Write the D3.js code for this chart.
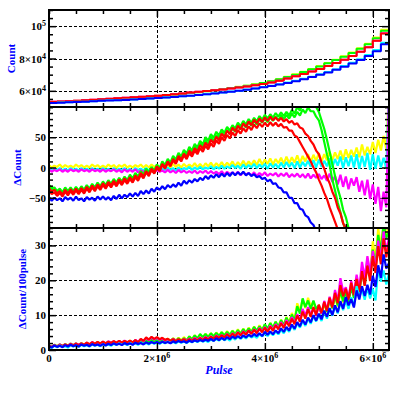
<!DOCTYPE html>
<html>
<head>
<meta charset="utf-8">
<script src="https://cdn.jsdelivr.net/npm/d3@7"></script>
<style>
  body { margin: 0; background: #fff; }
  svg { display: block; }
  .lbl { font-family: "Liberation Serif", "DejaVu Serif", serif; font-weight: bold; }
</style>
</head>
<body>
<div id="chart"></div>
<script>
// ---- data (pulse in units of 1e5, counts in units of 1e4) ----
const PULSE_BINS = [0,1.5,3,4.5,6,7.5,9,10.5,12,13.5,15,16.5,18,19.5,21,22.5,24,25.5,27,28.5,30,31.5,33,34.5,36,37.5,39,40.5,42,43.5,45,46.5,48,49.5,51,52.5,54,55.5,57,58.5,60,61.5,63];

const COUNT_YELLOW  = [5.30,5.33,5.34,5.38,5.40,5.44,5.46,5.50,5.52,5.56, 5.58,5.62,5.64,5.69,5.72,5.78,5.82,5.88,5.93,5.99, 6.05,6.11,6.18,6.25,6.32,6.40,6.49,6.60,6.72,6.87, 7.02,7.18,7.35,7.53,7.72,7.93,8.14,8.37,8.64,8.92, 9.30,9.78];
const COUNT_GREEN   = [5.30,5.32,5.34,5.37,5.40,5.43,5.46,5.49,5.52,5.55, 5.58,5.61,5.64,5.68,5.72,5.77,5.82,5.87,5.92,5.98, 6.04,6.10,6.17,6.24,6.31,6.39,6.48,6.59,6.71,6.85, 7.00,7.16,7.33,7.51,7.70,7.90,8.11,8.34,8.60,8.88, 9.25,9.72];
const COUNT_MAGENTA = [5.32,5.34,5.36,5.39,5.42,5.45,5.48,5.51,5.54,5.57, 5.60,5.63,5.66,5.70,5.74,5.79,5.84,5.89,5.94,5.99, 6.04,6.09,6.15,6.21,6.27,6.34,6.42,6.52,6.63,6.76, 6.90,7.04,7.19,7.35,7.53,7.72,7.93,8.15,8.41,8.70, 9.10,9.56];
const COUNT_RED     = [5.32,5.34,5.36,5.39,5.42,5.45,5.48,5.51,5.54,5.57, 5.60,5.63,5.66,5.70,5.74,5.79,5.84,5.89,5.94,5.99, 6.04,6.09,6.15,6.21,6.27,6.34,6.42,6.52,6.63,6.76, 6.90,7.04,7.19,7.35,7.53,7.72,7.93,8.15,8.41,8.70, 9.10,9.55];
const COUNT_CYAN    = [5.25,5.28,5.29,5.32,5.33,5.36,5.38,5.41,5.42,5.45, 5.47,5.49,5.53,5.55,5.59,5.62,5.67,5.70,5.75,5.79, 5.85,5.89,5.96,6.01,6.08,6.15,6.23,6.31,6.40,6.51, 6.62,6.74,6.87,7.02,7.17,7.34,7.53,7.73,7.96,8.22, 8.52,8.98];
const COUNT_BLUE    = [5.25,5.27,5.29,5.31,5.33,5.35,5.38,5.40,5.42,5.44, 5.46,5.49,5.52,5.55,5.58,5.62,5.66,5.70,5.74,5.79, 5.84,5.89,5.95,6.01,6.07,6.14,6.22,6.30,6.39,6.49, 6.60,6.72,6.85,6.99,7.14,7.31,7.49,7.69,7.91,8.16, 8.45,8.88];

const PULSE = [0,0.5,1,1.5,2,2.5,3,3.5,4,4.5,5,5.5,6,6.5,7,7.5,8,8.5,9,9.5,
  10,10.5,11,11.5,12,12.5,13,13.5,14,14.5,15,15.5,16,16.5,17,17.5,18,18.5,19,19.5,
  20,20.5,21,21.5,22,22.5,23,23.5,24,24.5,25,25.5,26,26.5,27,27.5,28,28.5,29,29.5,
  30,30.5,31,31.5,32,32.5,33,33.5,34,34.5,35,35.5,36,36.5,37,37.5,38,38.5,39,39.5,
  40,40.5,41,41.5,42,42.5,43,43.5,44,44.5,45,45.5,46,46.5,47,47.5,48,48.5,49,49.5,
  50,50.5,51,51.5,52,52.5,53,53.5,54,54.5,55,55.5,56,56.5,57,57.5,58,58.5,59,59.5,
  60,60.5,61,61.5,62,62.5,63];

// ΔCount
const DC_YELLOW = [4,0,3,1,5,0,4,1,3,0,5,1,4,0,3,0,5,1,4,0,
  3,0,5,1,4,-1,4,1,5,0,3,0,4,1,5,0,4,0,5,1,
  4,0,5,1,4,0,6,1,5,0,6,1,5,1,7,1,6,0,7,2,
  8,1,7,2,9,2,8,3,10,2,9,3,11,3,10,4,12,4,14,5,
  13,6,15,5,14,7,16,6,18,7,17,8,20,7,19,10,22,9,21,11,
  24,10,22,12,26,12,25,14,28,13,30,16,29,18,33,17,38,20,34,22,
  42,24,46,28,52,30,130];
const DC_CYAN = [-1,-5,-2,-4,-1,-5,-2,-5,-1,-4,-2,-5,-1,-4,-2,-5,-1,-4,-2,-5,
  -1,-4,-2,-6,-1,-5,-2,-4,-1,-5,-2,-6,-1,-4,-2,-5,-1,-5,-2,-4,
  -1,-5,-2,-4,0,-4,-1,-5,0,-4,-1,-3,1,-4,0,-3,1,-3,0,-2,
  2,-3,1,-2,3,-2,2,-1,4,-1,3,-2,5,-1,4,0,6,-1,5,0,
  6,-2,7,0,6,-1,8,0,9,1,8,-1,10,0,9,2,11,1,12,0,
  13,1,11,2,15,0,14,3,18,-1,17,2,20,0,22,-2,19,1,24,-4,
  22,-2,20,0,16,-2,130];
const DC_MAGENTA = [-3,-7,-4,-6,-3,-7,-4,-7,-3,-6,-4,-7,-3,-6,-4,-7,-3,-6,-4,-7,
  -3,-7,-4,-6,-3,-7,-4,-8,-3,-7,-4,-7,-3,-8,-5,-7,-4,-8,-5,-8,
  -4,-7,-5,-8,-4,-8,-5,-9,-4,-8,-5,-9,-6,-9,-5,-10,-6,-9,-5,-10,
  -6,-10,-7,-11,-6,-12,-7,-11,-8,-12,-7,-13,-8,-12,-9,-13,-8,-14,-9,-13,
  -8,-14,-10,-13,-9,-15,-10,-14,-9,-16,-11,-15,-10,-16,-11,-17,-10,-18,-12,-17,
  -11,-19,-13,-22,-10,-24,-14,-28,-12,-32,-15,-36,-18,-30,-16,-40,-22,-46,-20,-52,
  -28,-60,-32,-72,-40,-66,130];
const DC_BLUE = [-49,-55,-50,-54,-51,-56,-49,-53,-50,-55,-48,-54,-51,-56,-49,-53,-50,-55,-48,-53,
  -48,-53,-49,-54,-47,-52,-45,-51,-45,-49,-43,-48,-42,-47,-39,-44,-38,-43,-35,-40,
  -33,-37,-31,-36,-29,-33,-28,-32,-25,-30,-22,-27,-21,-25,-19,-23,-17,-21,-14,-19,
  -13,-17,-11,-16,-10,-15,-9,-14,-8,-13,-8,-12,-7,-13,-9,-14,-11,-16,-14,-19,
  -17,-23,-20,-27,-26,-33,-34,-41,-41,-50,-50,-59,-59,-68,-70,-79,-82,-91,-95,-106];
const DC_GREEN_A = [-29,-34,-33,-39,-35,-41,-33,-39,-33,-39,-32,-38,-31,-37,-29,-35,-27,-33,-25,-31,
  -23,-29,-21,-27,-19,-25,-17,-23,-15,-21,-12,-18,-9,-15,-6,-12,-2,-8,1,-5,
  5,-1,10,4,14,8,19,13,24,18,29,23,34,28,39,33,44,38,50,44,
  55,49,59,53,63,57,67,61,70,64,74,68,77,71,80,74,82,76,85,79,
  87,81,88,82,90,84,91,85,92,86,95,89,100,94,106,100,110,104,106,100,
  92,78,64,46,26,6,-14,-35,-50,-70,-82,-100,-108,-120];
const DC_GREEN_B = [-32,-38,-36,-42,-37,-43,-35,-41,-36,-42,-34,-40,-33,-39,-31,-37,-30,-36,-27,-33,
  -26,-32,-24,-30,-22,-28,-20,-26,-18,-24,-15,-21,-13,-19,-10,-16,-6,-12,-3,-9,
  1,-5,6,0,10,4,15,9,20,14,25,19,30,24,35,29,40,34,45,39,
  50,44,54,48,58,52,62,56,65,59,69,63,72,66,75,69,77,71,80,74,
  81,75,83,77,84,78,86,80,87,81,89,83,92,86,96,90,99,93,93,84,
  78,62,42,22,4,-20,-38,-58,-74,-92,-104,-118];
const DC_RED_A = [-34,-40,-37,-43,-39,-45,-37,-43,-36,-42,-35,-41,-34,-40,-32,-38,-30,-36,-28,-34,
  -26,-32,-24,-30,-22,-28,-20,-26,-18,-24,-16,-22,-13,-19,-9,-15,-6,-12,-2,-8,
  2,-4,6,0,10,4,14,8,19,13,23,17,28,22,32,26,37,31,41,35,
  46,40,51,45,56,50,61,55,66,60,69,63,73,67,76,70,79,73,81,75,
  83,77,84,78,83,77,82,76,80,74,77,71,73,66,64,56,52,44,38,28,
  22,8,-2,-16,-26,-40,-50,-66,-76,-92,-102,-116];
const DC_RED_B = [-38,-44,-41,-47,-42,-48,-40,-46,-39,-45,-38,-44,-37,-43,-35,-41,-33,-39,-31,-37,
  -29,-35,-27,-33,-25,-31,-23,-29,-21,-27,-19,-25,-16,-22,-12,-18,-8,-14,-4,-10,
  0,-6,4,-2,8,2,12,6,16,10,20,14,24,18,28,22,32,26,36,30,
  40,34,45,39,50,44,54,48,58,52,62,56,65,59,68,62,71,65,73,67,
  74,68,75,69,74,68,72,66,67,61,61,53,50,42,34,26,18,10,0,-8,
  -20,-30,-42,-52,-66,-78,-90,-102,-110,-120];

// ΔCount / 100 pulse
const RATE_YELLOW = [1.3,0.9,1.5,1.1,1.5,1.2,1.7,1.3,1.8,1.4,1.9,1.5,2.0,1.5,2.1,1.6,2.2,1.7,2.3,1.8,
  2.3,1.8,2.4,1.9,2.5,1.9,2.6,2.0,2.6,2.1,2.7,2.1,2.8,2.2,2.9,2.3,2.9,2.4,3.0,2.4,
  3.0,2.4,3.2,2.5,3.3,2.6,3.4,2.7,3.5,2.8,3.7,2.9,3.9,3.1,4.2,3.4,4.4,3.6,4.6,3.8,
  4.8,3.9,5.0,4.1,5.1,4.2,5.4,4.4,5.6,4.6,5.9,4.8,6.1,5.0,6.4,5.3,6.7,5.5,7.1,5.8,
  7.3,6.0,7.8,6.4,8.1,6.7,8.7,7.2,9.5,7.9,10.6,8.8,13.4,11.2,14.5,12.0,15.0,12.5,13.8,11.4,
  12.8,10.4,13.2,10.8,14.8,12.0,15.3,12.4,16.8,13.6,17.3,14.0,18.8,15.3,21.0,17.0,23.6,19.2,26.4,21.6,
  31.2,25.8,35,29.2,37,33,35];
const RATE_GREEN = [1.4,0.9,1.5,1.0,1.6,1.1,1.7,1.2,1.8,1.3,1.9,1.3,1.9,1.4,2.0,1.5,2.1,1.6,2.2,1.7,
  2.3,1.7,2.3,1.8,2.4,1.8,2.5,1.9,2.5,2.0,2.6,2.0,2.7,2.1,2.7,2.2,2.8,2.2,2.9,2.3,
  2.9,2.3,3.1,2.4,3.2,2.5,3.3,2.6,3.4,2.6,3.4,2.7,3.9,3.0,4.2,3.3,4.6,3.7,4.6,3.7,
  4.8,3.9,4.9,4.0,5.1,4.2,5.2,4.3,5.5,4.5,5.7,4.6,6.0,4.9,6.2,5.1,6.6,5.5,6.8,5.7,
  7.4,6.1,7.7,6.4,8.1,6.6,8.6,7.0,9.3,7.6,10.2,8.3,12.6,10.4,14.8,12.3,14.2,11.8,14.2,11.8,
  12.8,10.3,13.6,11.0,14.6,11.9,15.7,12.8,17.1,14.0,16.8,13.7,18.2,14.9,20.3,16.7,22.5,18.6,24.9,20.8,
  28.8,24.3,33,28.2,36,32,34];
const RATE_RED = [1.2,0.8,1.4,1.0,1.5,1.1,1.6,1.2,1.7,1.3,1.8,1.4,1.9,1.5,2.1,1.6,2.2,1.8,2.3,1.9,
  2.4,1.9,2.4,2.0,2.5,2.1,2.6,2.1,2.6,2.2,2.7,2.2,2.8,2.2,3.2,2.6,3.6,3.0,3.8,3.2,
  3.7,3.1,3.5,2.9,3.2,2.6,3.1,2.5,3.1,2.6,3.1,2.5,3.1,2.6,3.3,2.7,3.4,2.8,3.6,3.0,
  3.8,3.2,4.0,3.4,4.2,3.6,4.5,3.7,4.7,3.9,5.0,4.2,5.2,4.4,5.6,4.6,5.8,4.8,6.1,5.1,
  6.4,5.2,6.7,5.5,7.1,5.9,7.7,6.3,8.2,6.8,9.0,7.4,9.9,8.1,11.0,9.0,11.7,9.5,12.3,10.1,
  13.0,10.6,13.8,11.2,15.0,12.2,16.4,13.4,18.6,15.4,17.6,14.4,19.3,15.7,20.4,16.6,22.6,18.4,24.2,19.8,
  26.9,22.1,29.8,24.6,32,26.6,31];
const RATE_MAGENTA = [1.3,0.9,1.4,1.0,1.6,1.1,1.6,1.2,1.8,1.3,1.9,1.5,1.9,1.4,2.1,1.6,2.3,1.7,2.2,1.7,
  2.4,1.9,2.5,2.0,2.5,2.0,2.6,2.1,2.7,2.2,2.6,2.1,2.9,2.3,3.1,2.5,3.4,2.8,3.6,3.0,
  3.5,2.9,3.3,2.7,3.1,2.5,3.2,2.6,3.0,2.4,3.2,2.6,3.3,2.7,3.5,2.9,3.6,3.0,3.8,3.2,
  3.9,3.3,4.2,3.5,4.3,3.7,4.6,3.9,4.8,4.1,5.1,4.3,5.4,4.6,5.6,4.8,5.9,5.0,6.3,5.3,
  6.6,5.4,7.0,5.8,7.4,6.2,8.0,6.6,8.6,7.2,9.4,7.8,10.3,8.5,11.8,9.8,12.3,10.1,12.0,9.9,
  12.6,10.4,14.1,11.5,15.3,12.5,17.2,14.0,20.6,16.8,18.0,14.8,19.8,16.2,21.6,17.6,25.3,20.7,26.9,22.1,
  28.4,23.2,31.4,25.6,34,28,32.5];
const RATE_CYAN = [1.0,0.6,1.2,0.8,1.3,0.9,1.1,0.7,1.4,1.0,1.3,0.9,1.5,1.1,1.4,1.0,1.6,1.2,1.5,1.1,
  1.7,1.3,1.6,1.2,1.8,1.4,1.9,1.5,1.8,1.4,2.0,1.6,1.9,1.5,2.1,1.7,2.0,1.6,2.2,1.8,
  2.2,1.8,2.3,1.9,2.4,2.0,2.3,1.9,2.5,2.1,2.4,2.0,2.6,2.2,2.7,2.3,2.8,2.4,2.7,2.3,
  3.0,2.6,3.1,2.7,3.4,2.8,3.3,2.7,3.6,3.0,3.8,3.2,3.9,3.3,4.2,3.6,4.1,3.5,4.5,3.9,
  4.8,4.0,5.0,4.2,5.3,4.5,5.8,4.8,6.2,5.2,7.0,5.8,7.6,6.4,8.3,6.9,9.1,7.5,9.8,8.2,
  10.1,8.3,11.0,9.0,11.8,9.8,12.7,10.5,13.8,11.4,14.2,11.8,15.1,12.5,18.3,15.3,17.4,14.4,18.0,14.8,
  17.6,14.2,23.6,19.6,22.8,18.8,22];
const RATE_BLUE = [1.1,0.7,1.3,0.9,1.2,0.8,1.4,1.0,1.5,1.1,1.4,1.0,1.6,1.2,1.5,1.1,1.7,1.3,1.6,1.2,
  1.7,1.3,1.8,1.4,1.9,1.5,1.8,1.4,2.0,1.6,1.9,1.5,2.1,1.7,2.0,1.6,2.2,1.8,2.3,1.9,
  2.3,1.9,2.4,2.0,2.3,1.9,2.5,2.1,2.6,2.2,2.5,2.1,2.7,2.3,2.8,2.4,2.9,2.5,3.0,2.6,
  3.2,2.6,3.4,2.8,3.5,2.9,3.7,3.1,3.9,3.3,4.0,3.4,4.2,3.6,4.4,3.8,4.6,4.0,4.8,4.0,
  5.2,4.4,5.3,4.5,5.6,4.8,6.2,5.2,6.6,5.6,7.3,6.1,8.0,6.8,8.7,7.3,9.3,7.9,10.0,8.4,
  10.4,8.8,11.3,9.5,12.0,10.0,12.8,10.8,14.0,11.8,15.2,12.8,14.6,12.2,17.1,14.5,18.3,15.5,18.7,15.9,
  21.3,18.1,24.3,20.7,27.4,23.4,25];

// ---- layout ----
const W = 399, H = 399;
const X0 = 49, X1 = 389;

const svg = d3.select('#chart').append('svg').attr('width', W).attr('height', H);

const x = d3.scaleLinear().domain([0, 6.3e6]).range([X0, X1]);

const panels = [
  { id: 'cnt', top: 10, bottom: 107, domain: [5e4, 1.1e5], minor: 5e3, major: [6e4, 8e4, 1e5],
    labels: [['6×10', '4'], ['8×10', '4'], ['10', '5']],
    title: 'Count', titleX: 14.5 },
  { id: 'dc', top: 107, bottom: 228, domain: [-100, 100], minor: 10, major: [-50, 0, 50],
    labels: [['−50'], ['0'], ['50']],
    title: 'ΔCount', titleX: 21 },
  { id: 'rate', top: 228, bottom: 350, domain: [0, 35], minor: 2, major: [0, 10, 20, 30],
    labels: [['0'], ['10'], ['20'], ['30']],
    title: 'ΔCount/100pulse', titleX: 25.5 }
];

const xMinor = d3.range(0, 6.3e6 + 1, 5e5);
const xMajor = [2e6, 4e6, 6e6];

panels.forEach(p => {
  p.y = d3.scaleLinear().domain(p.domain).range([p.bottom, p.top]);
  svg.append('clipPath').attr('id', 'clip-' + p.id)
    .append('rect').attr('x', X0).attr('y', p.top).attr('width', X1 - X0).attr('height', p.bottom - p.top);
});

// grid
panels.forEach(p => {
  const g = svg.append('g').attr('stroke', '#000').attr('stroke-width', 1).attr('stroke-dasharray', '3,2');
  g.selectAll('.vg').data(xMajor).enter().append('line')
    .attr('x1', d => Math.round(x(d)) + 0.5).attr('x2', d => Math.round(x(d)) + 0.5)
    .attr('y1', p.top).attr('y2', p.bottom);
  g.selectAll('.hg').data(p.major.filter(v => v > p.domain[0] && v < p.domain[1])).enter().append('line')
    .attr('x1', X0).attr('x2', X1)
    .attr('y1', d => Math.round(p.y(d)) + 0.5).attr('y2', d => Math.round(p.y(d)) + 0.5);
});

// data
const makeLine = (yScale, curve) => d3.line()
  .x(d => x(d[0] * 1e5)).y(d => yScale(d[1]))
  .curve(curve);

function drawSeries(p, series, curve, width) {
  const g = svg.append('g').attr('clip-path', `url(#clip-${p.id})`);
  series.forEach(s => {
    g.append('path').datum(s.pts)
      .attr('fill', 'none').attr('stroke', s.color).attr('stroke-width', width)
      .attr('stroke-linejoin', 'bevel')
      .attr('d', makeLine(p.y, curve));
  });
}

const binPts = vals => PULSE_BINS.map((b, i) => [b, (i < vals.length ? vals[i] : vals[vals.length - 1]) * 1e4]);
drawSeries(panels[0], [
  { color: '#ffff00', pts: binPts(COUNT_YELLOW) },
  { color: '#00ff00', pts: binPts(COUNT_GREEN) },
  { color: '#ff00ff', pts: binPts(COUNT_MAGENTA) },
  { color: '#ff0000', pts: binPts(COUNT_RED) },
  { color: '#00ffff', pts: binPts(COUNT_CYAN) },
  { color: '#0000ff', pts: binPts(COUNT_BLUE) }
], d3.curveStepAfter, 2);

const pts = vals => vals.map((v, i) => [PULSE[i], v]);
drawSeries(panels[1], [
  { color: '#ffff00', pts: pts(DC_YELLOW) },
  { color: '#00ffff', pts: pts(DC_CYAN) },
  { color: '#ff00ff', pts: pts(DC_MAGENTA) },
  { color: '#0000ff', pts: pts(DC_BLUE) },
  { color: '#00ff00', pts: pts(DC_GREEN_A) },
  { color: '#00ff00', pts: pts(DC_GREEN_B) },
  { color: '#ff0000', pts: pts(DC_RED_A) },
  { color: '#ff0000', pts: pts(DC_RED_B) }
], d3.curveLinear, 2.2);

drawSeries(panels[2], [
  { color: '#ffff00', pts: pts(RATE_YELLOW) },
  { color: '#00ff00', pts: pts(RATE_GREEN) },
  { color: '#ff00ff', pts: pts(RATE_MAGENTA) },
  { color: '#ff0000', pts: pts(RATE_RED) },
  { color: '#00ffff', pts: pts(RATE_CYAN) },
  { color: '#0000ff', pts: pts(RATE_BLUE) }
], d3.curveLinear, 2.2);

// axes: inside ticks on all four sides of each panel
panels.forEach(p => {
  const yMinor = d3.range(p.domain[0], p.domain[1] + 1e-9, p.minor);
  const isMajX = v => xMajor.includes(v);
  const isMajY = v => p.major.includes(v);

  const bot = svg.append('g').attr('transform', `translate(0,${p.bottom})`)
    .call(d3.axisBottom(x).tickValues(xMinor).tickFormat('').tickSizeOuter(0));
  bot.selectAll('.tick line').attr('y2', d => isMajX(d) ? -7 : -4);
  const top = svg.append('g').attr('transform', `translate(0,${p.top})`)
    .call(d3.axisTop(x).tickValues(xMinor).tickFormat('').tickSizeOuter(0));
  top.selectAll('.tick line').attr('y2', d => isMajX(d) ? 7 : 4);
  const left = svg.append('g').attr('transform', `translate(${X0},0)`)
    .call(d3.axisLeft(p.y).tickValues(yMinor).tickFormat('').tickSizeOuter(0));
  left.selectAll('.tick line').attr('x2', d => isMajY(d) ? 7 : 4);
  const right = svg.append('g').attr('transform', `translate(${X1},0)`)
    .call(d3.axisRight(p.y).tickValues(yMinor).tickFormat('').tickSizeOuter(0));
  right.selectAll('.tick line').attr('x2', d => isMajY(d) ? -7 : -4);

  [bot, top, left, right].forEach(a => {
    a.select('.domain').remove();
    a.selectAll('.tick line').attr('stroke', '#000').attr('stroke-width', 1.5);
  });

  svg.append('rect').attr('x', X0).attr('y', p.top).attr('width', X1 - X0).attr('height', p.bottom - p.top)
    .attr('fill', 'none').attr('stroke', '#000').attr('stroke-width', 2);

  // y tick labels
  p.major.forEach((v, i) => {
    const t = svg.append('text').attr('class', 'lbl')
      .attr('x', X0 - 3).attr('y', p.y(v) + 4)
      .attr('text-anchor', 'end').attr('font-size', 11).attr('fill', '#000');
    const [base, exp] = p.labels[i];
    t.append('tspan').text(base);
    if (exp) t.append('tspan').attr('dy', -4).attr('font-size', 8).text(exp);
  });

  // y title
  svg.append('text').attr('class', 'lbl')
    .attr('transform', `translate(${p.titleX},${(p.top + p.bottom) / 2}) rotate(-90)`)
    .attr('text-anchor', 'middle').attr('font-size', 11).attr('fill', '#0000ff')
    .text(p.title);
});

// x tick labels
const X_TICKS = [0, 2e6, 4e6, 6e6];
const X_LABELS = [['0'], ['2×10', '6'], ['4×10', '6'], ['6×10', '6']];
X_TICKS.forEach((v, i) => {
  const t = svg.append('text').attr('class', 'lbl')
    .attr('x', x(v)).attr('y', 362)
    .attr('text-anchor', 'middle').attr('font-size', 11).attr('fill', '#000');
  const [base, exp] = X_LABELS[i];
  t.append('tspan').text(base);
  if (exp) t.append('tspan').attr('dy', -4).attr('font-size', 8).text(exp);
});

svg.append('text').attr('class', 'lbl')
  .attr('x', (X0 + X1) / 2).attr('y', 374)
  .attr('text-anchor', 'middle').attr('font-size', 12).attr('font-style', 'italic')
  .attr('fill', '#0000ff').text('Pulse');
</script>
</body>
</html>
